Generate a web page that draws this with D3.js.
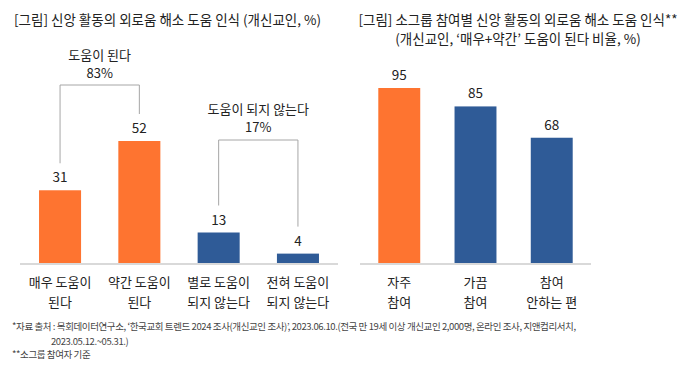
<!DOCTYPE html>
<html>
<head>
<meta charset="utf-8">
<script src="https://cdn.jsdelivr.net/npm/d3@7"></script>
<style>
  body { margin: 0; background: #fff; }
  svg { font-family: "Noto Sans CJK KR", "Noto Sans", sans-serif; }
</style>
</head>
<body>
<div id="chart"></div>
<script>
// Left chart data
var leftCats = [["매우 도움이", "된다"], ["약간 도움이", "된다"], ["별로 도움이", "되지 않는다"], ["전혀 도움이", "되지 않는다"]];
var leftVals = [31, 52, 13, 4];
var leftColors = ["#FE7430", "#FE7430", "#2F5B97", "#2F5B97"];
var groupNames = ["도움이 된다", "도움이 되지 않는다"];
var groupVals = [83, 17];

// Right chart data
var rightCats = [["자주", "참여"], ["가끔", "참여"], ["참여", "안하는 편"]];
var rightVals = [95, 85, 68];
var rightColors = ["#FE7430", "#2F5B97", "#2F5B97"];

var W = 689, H = 372;
var baseY = 263;
var textColor = "#222";

var svg = d3.select("#chart")
  .append("svg")
    .attr("width", W)
    .attr("height", H);

// ---- Left chart ----
var xL = d3.scaleBand()
  .domain(d3.range(leftVals.length))
  .range([20, 338])
  .paddingInner(0.47)
  .paddingOuter(0.24);
var yL = d3.scaleLinear()
  .domain([0, 52])
  .range([baseY, 141]);

svg.append("text")
  .attr("x", 14).attr("y", 25)
  .attr("font-size", 13.5)
  .attr("fill", textColor)
  .text("[그림] 신앙 활동의 외로움 해소 도움 인식 (개신교인, %)");

svg.append("g")
  .selectAll("rect")
  .data(leftVals)
  .enter()
  .append("rect")
    .attr("x", function(d, i) { return xL(i); })
    .attr("y", function(d) { return yL(d); })
    .attr("width", xL.bandwidth())
    .attr("height", function(d) { return baseY - yL(d); })
    .attr("fill", function(d, i) { return leftColors[i]; });

svg.append("line")
  .attr("x1", 20).attr("x2", 338)
  .attr("y1", baseY + 1).attr("y2", baseY + 1)
  .attr("stroke", "#d9d9d9").attr("stroke-width", 2);

svg.append("g")
  .selectAll("text")
  .data(leftVals)
  .enter()
  .append("text")
    .attr("x", function(d, i) { return xL(i) + xL.bandwidth() / 2; })
    .attr("y", function(d) { return yL(d) - 8; })
    .attr("text-anchor", "middle")
    .attr("font-size", 13.5)
    .attr("fill", textColor)
    .text(function(d) { return d; });

var leftLab = svg.append("g")
  .selectAll("text")
  .data(leftCats)
  .enter()
  .append("text")
    .attr("text-anchor", "middle")
    .attr("font-size", 13)
    .attr("fill", textColor);
leftLab.each(function(d, i) {
  var cx = xL(i) + xL.bandwidth() / 2;
  d3.select(this).selectAll("tspan")
    .data(d)
    .enter()
    .append("tspan")
      .attr("x", cx)
      .attr("y", function(t, j) { return 287 + j * 20; })
      .text(function(t) { return t; });
});

// brackets grouping the bars
var brackets = [
  {a: 0, b: 1, top: 85, name: groupNames[0], val: groupVals[0], ty: 60},
  {a: 2, b: 3, top: 140, name: groupNames[1], val: groupVals[1], ty: 114}
];
brackets.forEach(function(br) {
  var x1 = xL(br.a) + xL.bandwidth() / 2;
  var x2 = xL(br.b) + xL.bandwidth() / 2;
  var y1 = yL(leftVals[br.a]) - 27;
  var y2 = yL(leftVals[br.b]) - 27;
  svg.append("path")
    .attr("d", d3.line()([[x1, y1], [x1, br.top], [x2, br.top], [x2, y2]]))
    .attr("fill", "none")
    .attr("stroke", "#a6a6a6")
    .attr("stroke-width", 1);
  var mx = (x1 + x2) / 2;
  svg.append("text")
    .attr("x", mx).attr("y", br.ty)
    .attr("text-anchor", "middle")
    .attr("font-size", 13)
    .attr("fill", textColor)
    .text(br.name);
  svg.append("text")
    .attr("x", mx).attr("y", br.ty + 18)
    .attr("text-anchor", "middle")
    .attr("font-size", 13)
    .attr("fill", textColor)
    .text(br.val + "%");
});

// ---- Right chart ----
var xR = d3.scaleBand()
  .domain(d3.range(rightVals.length))
  .range([360, 591])
  .paddingInner(0.45)
  .paddingOuter(0.24);
var yR = d3.scaleLinear()
  .domain([0, 95])
  .range([baseY, 88]);

var rTitle = svg.append("text")
  .attr("text-anchor", "middle")
  .attr("font-size", 13.5)
  .attr("fill", textColor);
rTitle.append("tspan").attr("x", 518).attr("y", 25)
  .text("[그림] 소그룹 참여별 신앙 활동의 외로움 해소 도움 인식**");
rTitle.append("tspan").attr("x", 518).attr("y", 44)
  .text("(개신교인, ‘매우+약간’ 도움이 된다 비율, %)");

svg.append("g")
  .selectAll("rect")
  .data(rightVals)
  .enter()
  .append("rect")
    .attr("x", function(d, i) { return xR(i); })
    .attr("y", function(d) { return yR(d); })
    .attr("width", xR.bandwidth())
    .attr("height", function(d) { return baseY - yR(d); })
    .attr("fill", function(d, i) { return rightColors[i]; });

svg.append("line")
  .attr("x1", 360).attr("x2", 591)
  .attr("y1", baseY + 1).attr("y2", baseY + 1)
  .attr("stroke", "#d9d9d9").attr("stroke-width", 2);

svg.append("g")
  .selectAll("text")
  .data(rightVals)
  .enter()
  .append("text")
    .attr("x", function(d, i) { return xR(i) + xR.bandwidth() / 2; })
    .attr("y", function(d) { return yR(d) - 8; })
    .attr("text-anchor", "middle")
    .attr("font-size", 13.5)
    .attr("fill", textColor)
    .text(function(d) { return d; });

var rightLab = svg.append("g")
  .selectAll("text")
  .data(rightCats)
  .enter()
  .append("text")
    .attr("text-anchor", "middle")
    .attr("font-size", 13)
    .attr("fill", textColor);
rightLab.each(function(d, i) {
  var cx = xR(i) + xR.bandwidth() / 2;
  d3.select(this).selectAll("tspan")
    .data(d)
    .enter()
    .append("tspan")
      .attr("x", cx)
      .attr("y", function(t, j) { return 287 + j * 20; })
      .text(function(t) { return t; });
});

// ---- Footnotes ----
var notes = svg.append("g")
  .attr("font-size", 9.5)
  .attr("fill", "#444")
  .attr("letter-spacing", -0.4);
notes.append("text").attr("x", 12).attr("y", 330)
  .text("*자료 출처 : 목회데이터연구소, ‘한국교회 트렌드 2024 조사(개신교인 조사)’, 2023.06.10.(전국 만 19세 이상 개신교인 2,000명, 온라인 조사, 지앤컴리서치,");
notes.append("text").attr("x", 51).attr("y", 345)
  .text("2023.05.12.~05.31.)");
notes.append("text").attr("x", 12).attr("y", 358)
  .text("**소그룹 참여자 기준");
</script>
</body>
</html>
